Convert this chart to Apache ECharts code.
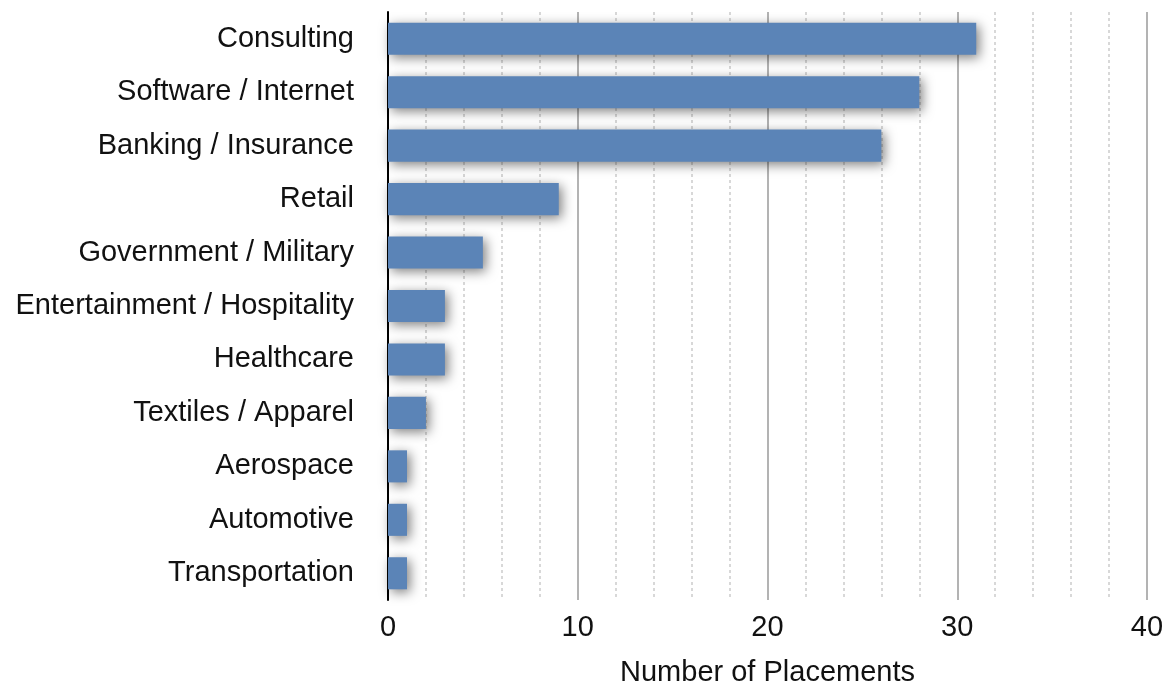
<!DOCTYPE html>
<html><head><meta charset="utf-8">
<script src="https://cdn.jsdelivr.net/npm/echarts@6/dist/echarts.min.js"></script>
<style>html,body{margin:0;padding:0;background:#fff}#c{width:1169px;height:685px}</style>
</head><body><div id="c"></div>
<script>
const categories = ["Consulting","Software / Internet","Banking / Insurance","Retail","Government / Military","Entertainment / Hospitality","Healthcare","Textiles / Apparel","Aerospace","Automotive","Transportation"];
const placements = [31,28,26,9,5,3,3,2,1,1,1];
const xTicks = [0,10,20,30,40];
const axisTitle = "Number of Placements";

const chart = echarts.init(document.getElementById('c'));
chart.setOption({
  animation:false,
  grid:{left:388,right:22,top:12,bottom:85,containLabel:false,outerBoundsMode:'none'},
  xAxis:{
    type:'value',min:xTicks[0],max:xTicks[xTicks.length-1],interval:10,
    name:axisTitle,nameLocation:'middle',nameGap:58,
    nameTextStyle:{fontFamily:'Liberation Sans, Arial',fontSize:29,color:'#111'},
    axisLine:{show:false},axisTick:{show:false},
    axisLabel:{fontFamily:'Liberation Sans, Arial',fontSize:29,color:'#111',margin:13},
    splitLine:{show:true,lineStyle:{color:'#b3b3b3',width:2}},
    minorTick:{show:false,splitNumber:5},
    minorSplitLine:{show:true,lineStyle:{color:'#cccccc',width:1.5,type:[3,3]}}
  },
  yAxis:{
    type:'category',data:categories,inverse:true,
    axisLine:{show:true,onZero:false,lineStyle:{color:'#000',width:2}},
    axisTick:{show:false},
    axisLabel:{fontFamily:'Liberation Sans, Arial',fontSize:29,color:'#111',margin:34}
  },
  series:[{
    type:'bar',data:placements,barWidth:'60%',
    itemStyle:{color:'#5b84b7',shadowColor:'rgba(0,0,0,0.5)',shadowBlur:12,shadowOffsetX:3,shadowOffsetY:3}
  }]
});
</script></body></html>
